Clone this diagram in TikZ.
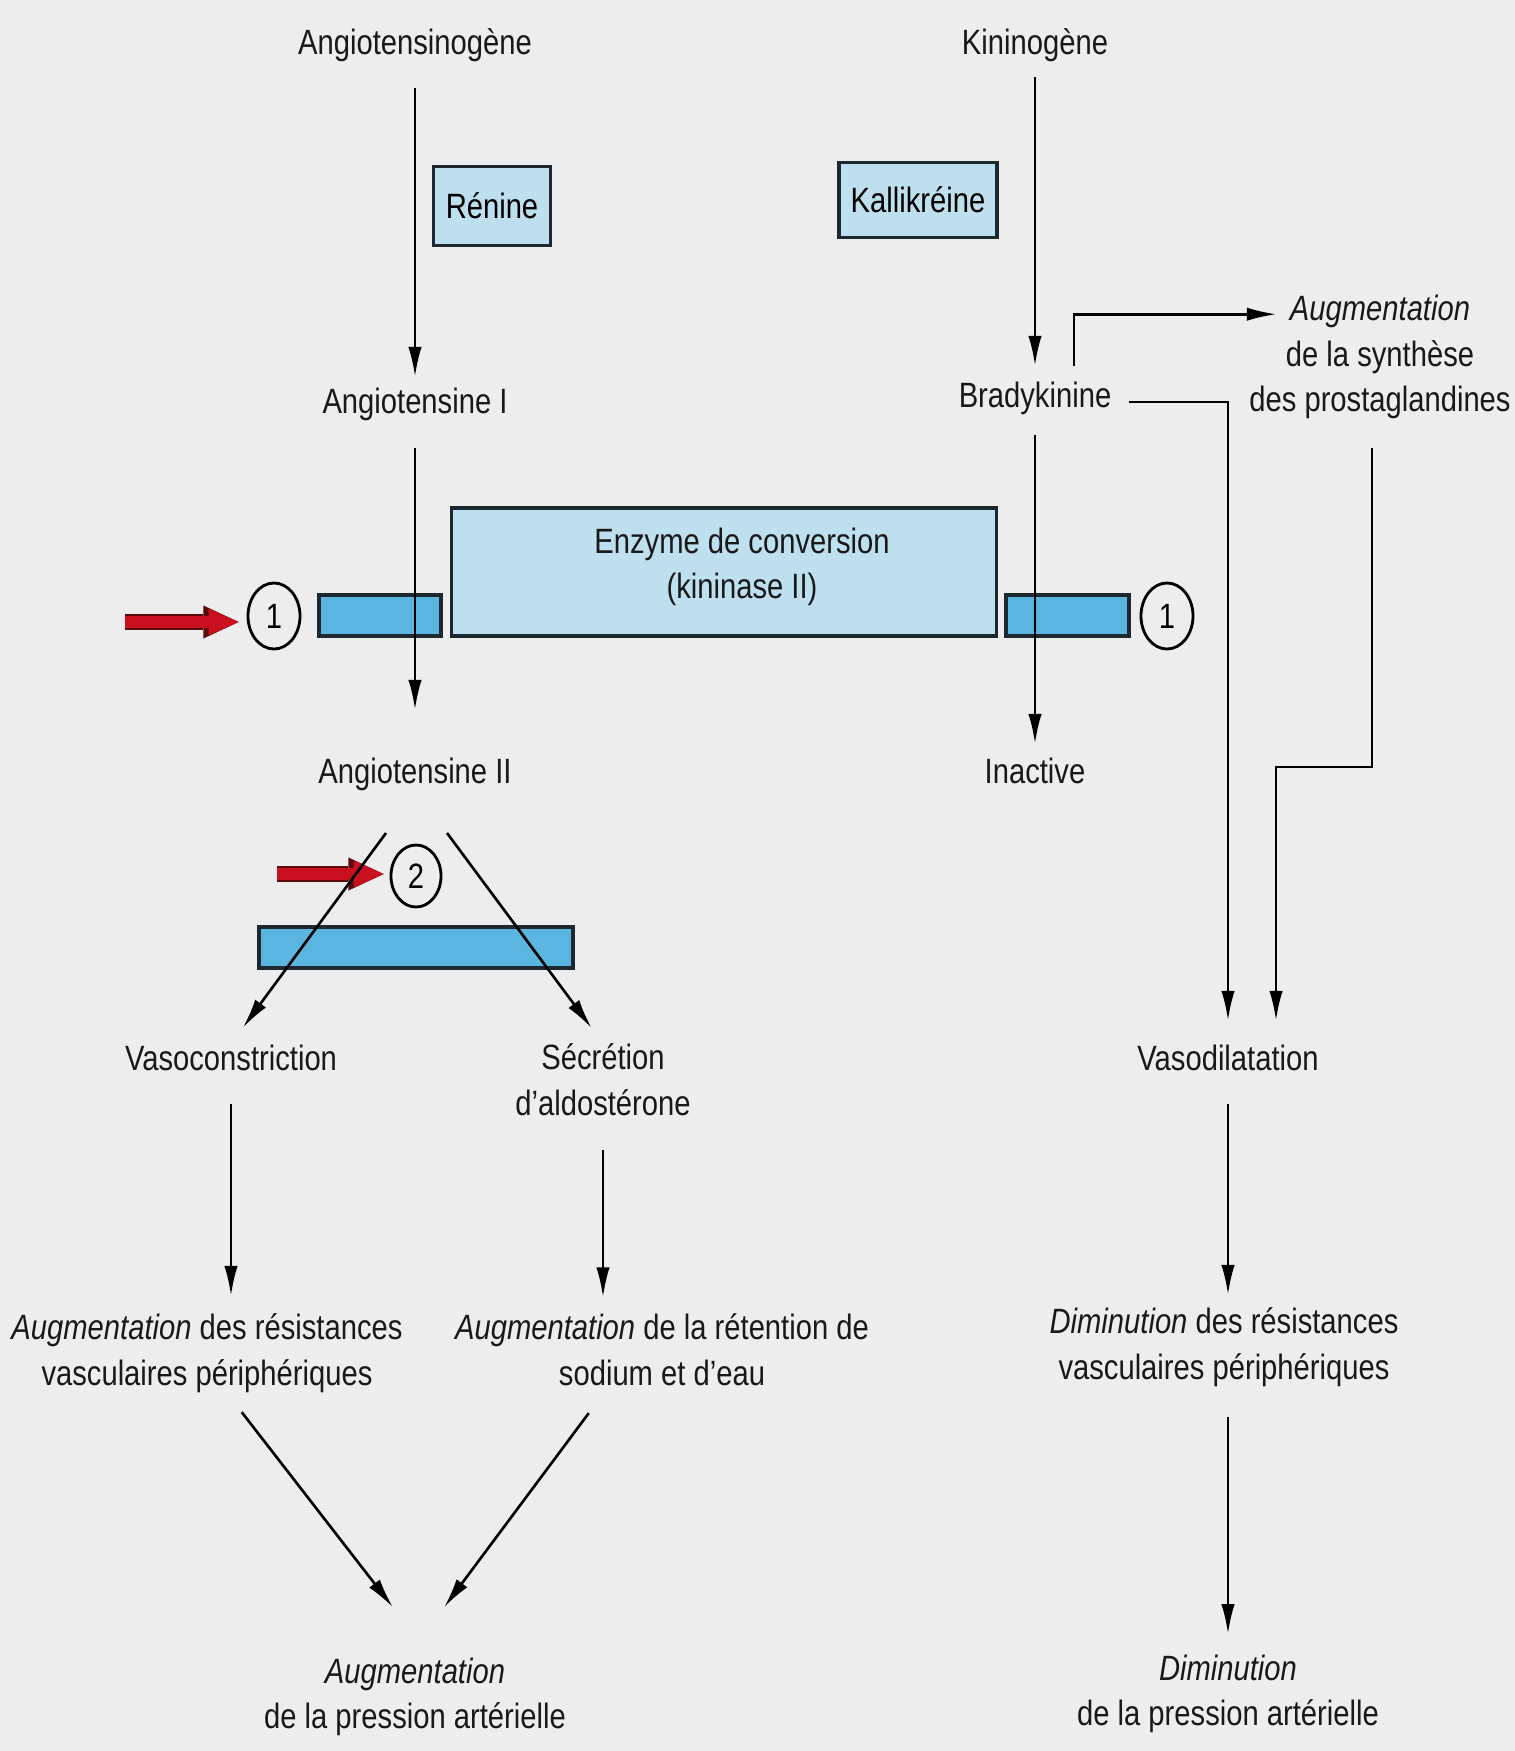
\documentclass[tikz,border=0pt]{standalone}
\usepackage{fontspec}
\setmainfont{Liberation Sans}[FakeStretch=0.83]
\usetikzlibrary{arrows.meta,shapes.geometric}
\definecolor{bg}{RGB}{237,237,237}
\definecolor{boxlight}{RGB}{190,223,237}
\definecolor{boxdark}{RGB}{90,182,225}
\definecolor{edge}{RGB}{30,40,48}
\definecolor{redin}{RGB}{200,16,30}
\definecolor{redout}{RGB}{90,12,12}
\newcommand\labfont{\fontsize{10pt}{13pt}\selectfont}
\tikzset{
  lbl/.style={font=\labfont, align=center, inner sep=0, text=black!90},
  enzbox/.style={draw=edge, fill=boxlight, line width=.9pt, font=\labfont, align=center},
  bar/.style={draw=edge, fill=boxdark, line width=.9pt},
  numc/.style={ellipse, draw, line width=.8pt, minimum width=.52cm, minimum height=.66cm, inner sep=0, font=\labfont},
  arr/.style={line width=.75pt, -{Latex[length=8.5pt,width=3.8pt]}},
  redarr/.style={line width=3.2pt, draw=redin, -{Triangle[length=8.5pt,width=7.6pt,line width=0pt]},
    preaction={draw=redout, line width=4.4pt, -{Triangle[length=10pt,width=9.4pt,line width=0pt]}}}
}
\begin{document}
\begin{tikzpicture}[x=.01cm,y=-.01cm]
\useasboundingbox (0,0) rectangle (1515,1751);
\fill[bg] (0,0) rectangle (1515,1751);
\foreach \a/\b/\c/\d in {319/595/441/636, 1006/595/1129/636, 259/927/573/968}
\draw[bar] (\a,\b) rectangle (\c,\d);
\node[enzbox, minimum width=5.44cm, minimum height=1.28cm] (ace) at (724,572) {};
\node[lbl] (acetxt) at ([xshift=.18cm,yshift=.05cm]ace) {Enzyme de conversion\\(kininase II)};
\node[enzbox, minimum width=1.17cm, minimum height=.79cm] (ren) at (492,206) {Rénine};
\node[enzbox, minimum width=1.55cm, minimum height=.75cm] (kal) at (918,200) {Kallikréine};
%%%%
\node[lbl, anchor=base] (agen) at (415,54) {Angiotensinogène};
\node[lbl, anchor=base] (ang1) at (415,413) {Angiotensine I};
\node[lbl, anchor=base] (ang2) at (415,783) {Angiotensine II};
\node[lbl, anchor=base] (kgen) at (1035,54) {Kininogène};
\node[lbl, anchor=base] (brady) at (1035,407) {Bradykinine};
\node[lbl, anchor=base] (inact) at (1035,783) {Inactive};
\node[lbl] (augsyn) at (1380,357) {\textit{Augmentation}\\de la synthèse\\des prostaglandines};
\node[lbl, anchor=base] (vcon) at (231,1070) {Vasoconstriction};
\node[lbl] (sec) at (603,1080) {Sécrétion\\d'aldostérone};
\node[lbl, anchor=base] (vdil) at (1228,1070) {Vasodilatation};
\node[lbl] (augres) at (207,1353) {\textit{Augmentation} des résistances\\vasculaires périphériques};
\node[lbl] (augret) at (662,1350) {\textit{Augmentation} de la rétention de\\sodium et d'eau};
\node[lbl] (dimres) at (1224,1347) {\textit{Diminution} des résistances\\vasculaires périphériques};
\node[lbl] (augpa) at (415,1697) {\textit{Augmentation}\\de la pression artérielle};
\node[lbl] (dimpa) at (1228,1694) {\textit{Diminution}\\de la pression artérielle};
%%%%
\node[numc] (c1a) at (274,616) {1};
\node[numc] (c1b) at (1167,616) {1};
\node[numc, minimum width=.5cm, minimum height=.62cm] (c2) at (416,876) {2};
\coordinate (r1) at (125,622);
\coordinate (r2) at (277,874);
\draw[redarr, shorten >=.08cm] (r1) -- (r1 -| c1a.west);
\draw[redarr, shorten >=.06cm] (r2) -- (r2 -| c2.west);
%%%%
\draw[arr, shorten <=.26cm, shorten >=.1cm] (agen) -- (ang1);
\draw[arr, shorten <=.27cm, shorten >=.47cm] (ang1) -- (ang2);
\draw[arr, shorten <=.15cm, shorten >=.15cm] (kgen) -- (brady);
\draw[arr, shorten <=.2cm, shorten >=.13cm] (brady) -- (inact);
\draw[arr, shorten >=.2cm] ([xshift=-.29cm,yshift=-.42cm]ang2.south) -- (vcon.north);
\draw[arr, shorten >=.19cm] ([xshift=.32cm,yshift=-.42cm]ang2.south) -- (sec.north);
\draw[arr, shorten <=.33cm, shorten >=.17cm] (vcon.south) -- (vcon.south |- augres.north);
\draw[arr, shorten <=.33cm, shorten >=.16cm] (sec.south) -- (sec.south |- augret.north);
\draw[arr, shorten <=.24cm, shorten >=.63cm] ([xshift=.2cm]augres.south) -- ([xshift=.165cm]augpa.north);
\draw[arr, shorten <=.33cm, shorten >=.62cm] ([xshift=-.535cm]augret.south) -- ([xshift=-.08cm]augpa.north);
\draw[arr] ([xshift=.39cm,yshift=.15cm]brady.north) |- ([xshift=.28cm,yshift=-.2cm]augsyn.north west);
\draw[arr, shorten >=.23cm] ([xshift=.17cm,yshift=-.04cm]brady.east) -| (vdil.north);
\draw[arr, shorten >=.23cm] ([xshift=-.08cm,yshift=-.28cm]augsyn.south) -- ++(0,319) -| ([xshift=.48cm]vdil.north);
\draw[arr, shorten <=.33cm, shorten >=.12cm] (vdil.south) -- (vdil.south |- dimres.north);
\draw[arr, shorten <=.3cm, shorten >=.2cm] (dimpa.north |- dimres.south) -- (dimpa.north);
\end{tikzpicture}
\end{document}
